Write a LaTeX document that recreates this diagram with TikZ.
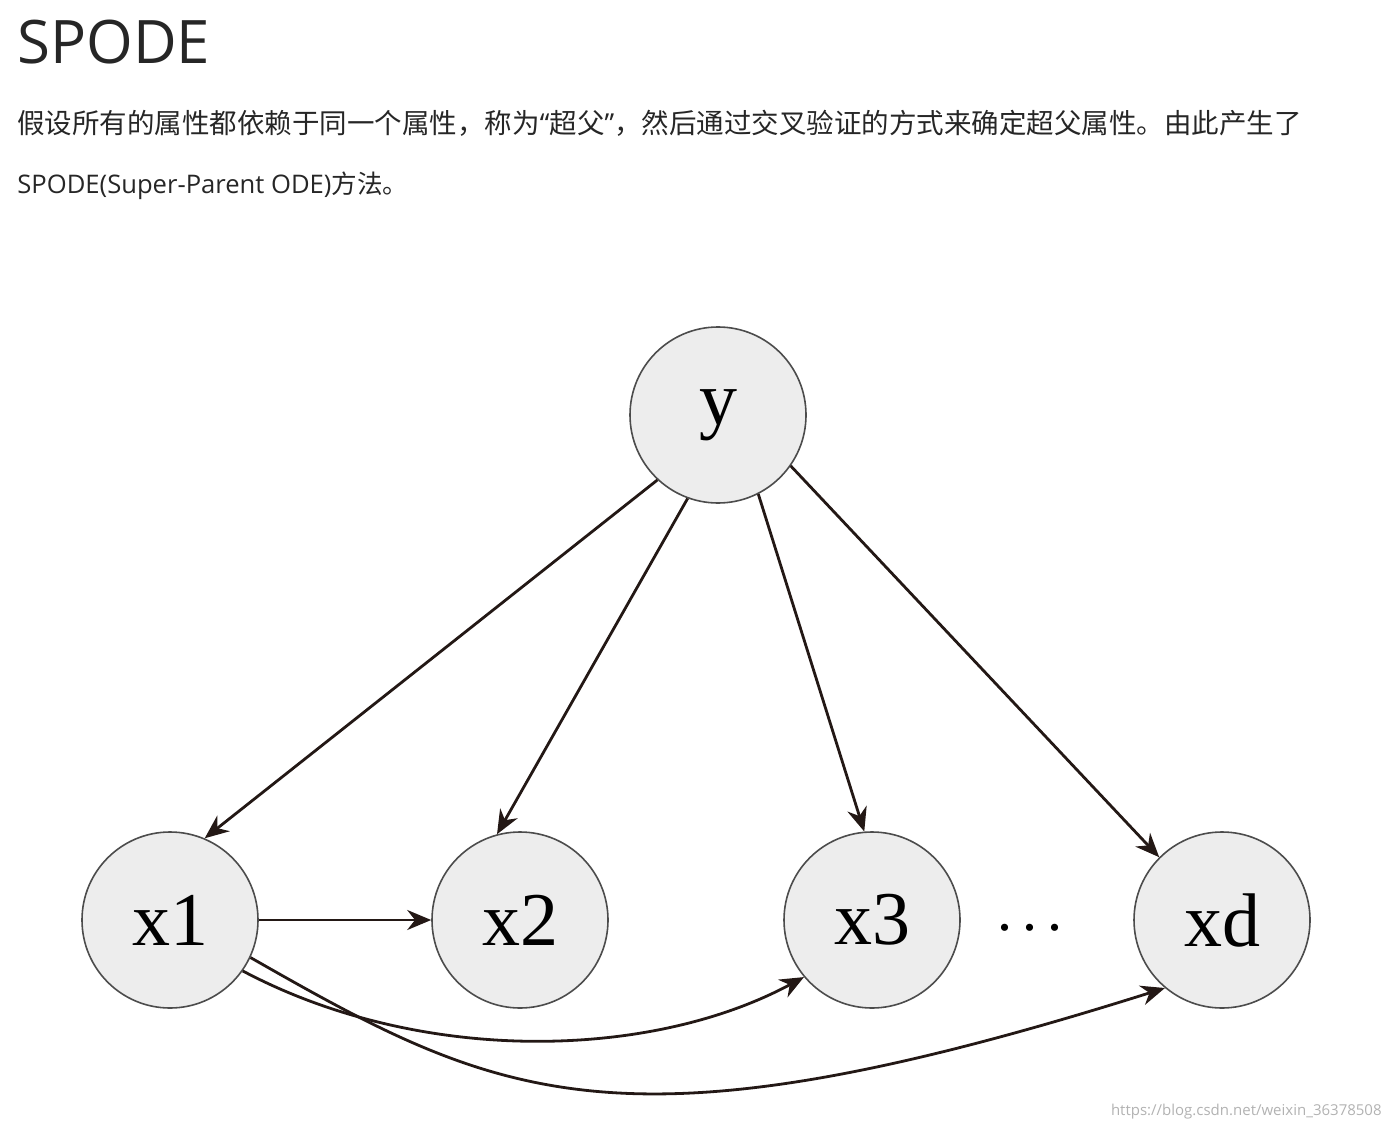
\documentclass[tikz,border=0pt]{standalone}
\usepackage{fontspec}
\setmainfont{Open Sans}
\newfontfamily\cjk{Noto Sans CJK SC}
\newfontfamily\tms{Liberation Serif}
\usetikzlibrary{arrows.meta}
\definecolor{ln}{HTML}{231815}
\begin{document}
\begin{tikzpicture}[x=0.5pt,y=-0.5pt,
  nd/.style={circle,draw=black!70,line width=0.8pt,fill=black!7,minimum size=88pt,inner sep=0pt,font=\tms\fontsize{38}{40}\selectfont},
  ar/.style={draw=ln,line width=1.4pt,-{Stealth[length=12pt,width=10pt]}},
  txt/.style={anchor=base west,inner sep=0pt,text=black!85}]
\useasboundingbox (0,0) rectangle (1390,1128);
\node[txt,font=\fontsize{30}{32}\selectfont] (title) at (17,64) {SPODE};
\node[txt,font=\fontsize{13.75}{15}\selectfont] (l1) at (17,134) {\cjk 假设所有的属性都依赖于同一个属性，称为{\rmfamily “}超父{\rmfamily ”}，然后通过交叉验证的方式来确定超父属性。由此产生了};
\node[txt,font=\fontsize{12.8}{15}\selectfont] (l2) at (17,194) {SPODE(Super-Parent ODE){\cjk 方法。}};
\node[nd] (y) at (718,415) {y};
\node[nd] (x1) at (170,920) {x1};
\node[nd] (x2) at (520,920) {x2};
\node[nd] (x3) at (872,920) {x3};
\node[nd] (xd) at (1222,920) {xd};
\node[font=\tms\fontsize{30}{30}\selectfont] (dots) at (1030,928) {.\,.\,.};
\draw[ar] (y.227) -- (x1.67);
\draw[ar] (y.250) -- (x2.105);
\draw[ar] (y.297) -- (x3.95);
\draw[ar] (y.325) -- (xd.135);
\draw[ar] (x1) -- (x2);
\draw[ar] (x1.-35) .. controls (420,1065) and (650,1060) .. (x3.-140);
\draw[ar] (x1.-25) .. controls (500,1100) and (620,1160) .. (xd.-130);
\node[anchor=base east,inner sep=0pt,text=black!30,font=\fontsize{7.5}{9}\selectfont] (wm) at (1382,1115) {https://blog.csdn.net/weixin\_36378508};
\end{tikzpicture}
\end{document}
